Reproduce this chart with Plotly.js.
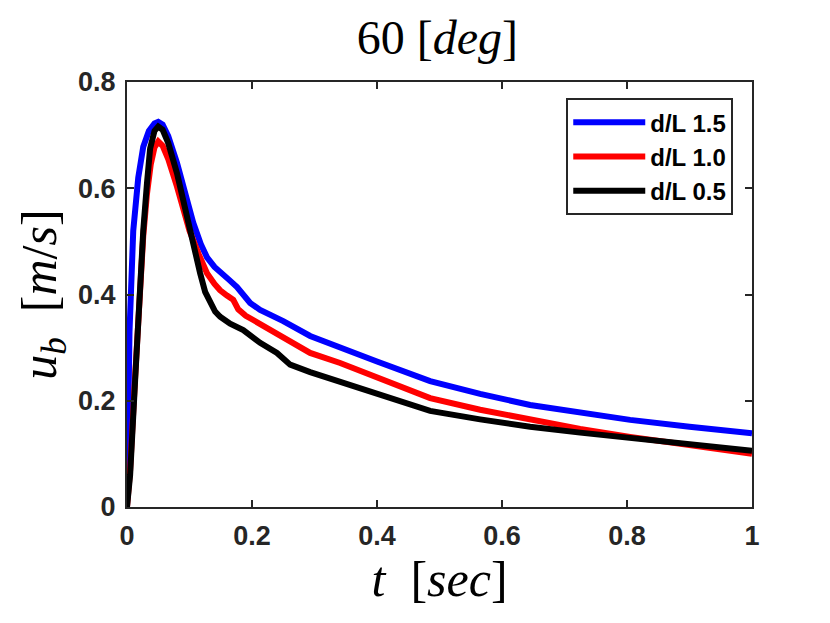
<!DOCTYPE html>
<html>
<head>
<meta charset="utf-8">
<script src="https://cdn.plot.ly/plotly-3.0.1.min.js"></script>
<style>
  html, body { margin: 0; padding: 0; background: #fff; }
  #plot { width: 830px; height: 623px; }
</style>
</head>
<body>
<div id="plot"></div>
<script>
// d/L 1.5
const tBlue = [0, 0.004, 0.01, 0.018, 0.026, 0.035, 0.044, 0.05, 0.057, 0.066, 0.08, 0.094, 0.106, 0.118, 0.128, 0.14, 0.15, 0.163, 0.176, 0.186, 0.197, 0.213, 0.25, 0.293, 0.341, 0.4, 0.485, 0.565, 0.645, 0.725, 0.805, 0.9, 1];
const uBlue = [0, 0.33, 0.52, 0.62, 0.678, 0.708, 0.722, 0.725, 0.72, 0.698, 0.648, 0.585, 0.535, 0.495, 0.47, 0.452, 0.44, 0.428, 0.414, 0.398, 0.384, 0.371, 0.35, 0.322, 0.3, 0.274, 0.237, 0.213, 0.192, 0.177, 0.164, 0.151, 0.139];

// d/L 1.0
const tRed = [0, 0.005, 0.013, 0.02, 0.026, 0.032, 0.038, 0.044, 0.05, 0.057, 0.066, 0.08, 0.09, 0.1, 0.115, 0.128, 0.14, 0.149, 0.16, 0.17, 0.178, 0.19, 0.202, 0.25, 0.293, 0.341, 0.4, 0.485, 0.565, 0.645, 0.725, 0.805, 0.9, 1];
const uRed = [0, 0.07, 0.245, 0.4, 0.51, 0.59, 0.645, 0.677, 0.688, 0.68, 0.655, 0.603, 0.56, 0.52, 0.475, 0.44, 0.42, 0.408, 0.398, 0.39, 0.372, 0.36, 0.352, 0.318, 0.29, 0.271, 0.244, 0.205, 0.183, 0.164, 0.147, 0.132, 0.116, 0.1];

// d/L 0.5
const tBlack = [0, 0.005, 0.013, 0.02, 0.026, 0.032, 0.037, 0.044, 0.05, 0.057, 0.066, 0.08, 0.09, 0.1, 0.108, 0.117, 0.125, 0.133, 0.141, 0.149, 0.165, 0.186, 0.2, 0.213, 0.24, 0.256, 0.261, 0.293, 0.341, 0.4, 0.485, 0.565, 0.645, 0.725, 0.805, 0.9, 1];
const uBlack = [0, 0.06, 0.239, 0.4, 0.52, 0.61, 0.675, 0.708, 0.716, 0.71, 0.685, 0.628, 0.575, 0.52, 0.48, 0.44, 0.405, 0.384, 0.368, 0.358, 0.345, 0.333, 0.32, 0.309, 0.29, 0.274, 0.268, 0.254, 0.236, 0.213, 0.181, 0.165, 0.151, 0.14, 0.13, 0.119, 0.106];

const names = ['d/L 1.5', 'd/L 1.0', 'd/L 0.5'];
const colors = ['#0000ff', '#ff0000', '#000000'];

const xTicks = [0, 0.2, 0.4, 0.6, 0.8, 1];
const yTicks = [0, 0.2, 0.4, 0.6, 0.8];

function line(x, y, i) {
  return {
    x: x,
    y: y,
    mode: 'lines',
    type: 'scatter',
    name: names[i],
    line: { color: colors[i], width: 6 }
  };
}

const data = [
  line(tBlue, uBlue, 0),
  line(tRed, uRed, 1),
  line(tBlack, uBlack, 2)
];

const axisColor = '#262626';
const sans = 'Liberation Sans, Arial, sans-serif';
const serif = 'Liberation Serif, Times New Roman, serif';
const tickFont = { family: sans, size: 27, color: axisColor, weight: 'bold' };

function axis(ticks, range, standoff, labelGap, titleText) {
  return {
    range: range,
    tickvals: ticks,
    ticktext: ticks.map(String),
    ticks: 'inside',
    ticklen: 7,
    tickwidth: 2,
    tickcolor: axisColor,
    showline: true,
    linecolor: axisColor,
    linewidth: 2,
    mirror: 'ticks',
    showgrid: false,
    zeroline: false,
    tickfont: tickFont,
    ticklabelstandoff: labelGap,
    title: {
      text: titleText,
      font: { family: serif, size: 50, color: '#000' },
      standoff: standoff
    }
  };
}

const layout = {
  width: 830,
  height: 623,
  paper_bgcolor: '#fff',
  plot_bgcolor: '#fff',
  margin: { l: 127, r: 78, t: 82, b: 116 },
  title: {
    text: '60 [<i>deg</i>]',
    font: { family: serif, size: 48, color: '#000' },
    x: 0.527,
    xanchor: 'center',
    y: 0.94,
    yanchor: 'middle'
  },
  xaxis: axis(xTicks, [0, 1], 10, 4, '<i>t</i>&nbsp;&nbsp;[<i>sec</i>]'),
  yaxis: axis(yTicks, [0, 0.8], 6, 4, '<i>u<sub>b</sub></i>&nbsp;&nbsp;[<i>m</i>/<i>s</i>]'),
  legend: {
    x: 0.97,
    xanchor: 'right',
    y: 0.962,
    yanchor: 'top',
    bgcolor: '#fff',
    bordercolor: axisColor,
    borderwidth: 2,
    itemwidth: 72,
    font: { family: sans, size: 24, color: '#000', weight: 'bold' },
    tracegroupgap: 0
  },
  showlegend: true
};

Plotly.newPlot('plot', data, layout, { staticPlot: true });
</script>
</body>
</html>
